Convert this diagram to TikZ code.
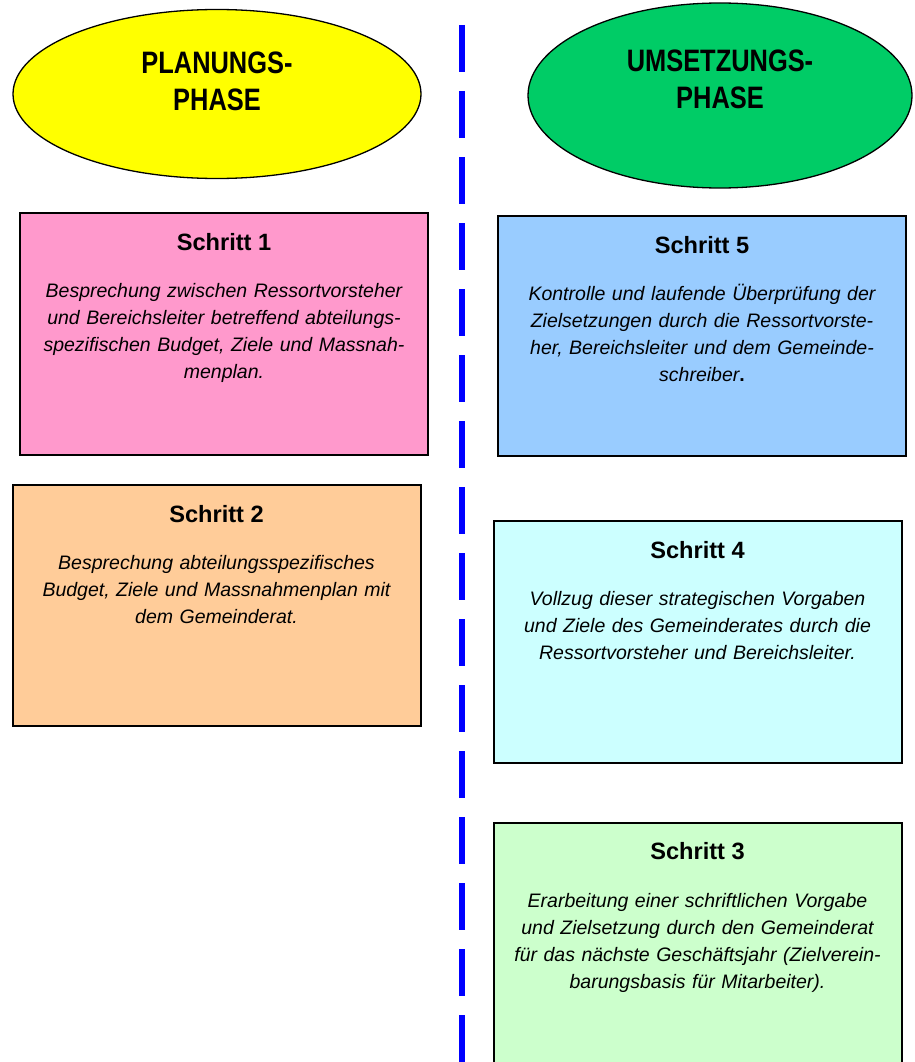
\documentclass[tikz,border=0pt]{standalone}
\usepackage{fontspec}
\setmainfont{Liberation Sans}
\newfontfamily\schmalfont[FakeStretch=0.82]{Liberation Sans}
\usepackage{tikz}
\usetikzlibrary{shapes.geometric}

\definecolor{planung}{HTML}{FFFF00}
\definecolor{umsetzung}{HTML}{00CC66}
\definecolor{schrittA}{HTML}{FF99CC}
\definecolor{schrittB}{HTML}{FFCC99}
\definecolor{schrittC}{HTML}{CCFFCC}
\definecolor{schrittD}{HTML}{CCFFFF}
\definecolor{schrittE}{HTML}{99CCFF}
\definecolor{trenn}{HTML}{0000FF}

\tikzset{
  phase/.style={ellipse,draw,line width=1.3pt,inner sep=0pt},
  phasetext/.style={anchor=base,align=center,text width=300pt,
    font=\schmalfont\bfseries\fontsize{31}{37}\selectfont},
  schrittbox/.style={draw,line width=2pt,inner sep=0pt,minimum width=408pt},
  schritttitel/.style={anchor=base,font=\bfseries\fontsize{23.6}{28}\selectfont},
  schritttext/.style={anchor=base,align=center,text width=400pt,
    font=\itshape\fontsize{19.5}{27}\selectfont}
}

\begin{document}
\begin{tikzpicture}[line cap=butt,line join=miter,x=1pt,y=-1pt]
\clip (0,0) rectangle (914,1062);
\fill[white] (0,0) rectangle (914,1062);
% trennlinie
\draw[trenn,line width=6pt,dash pattern=on 47pt off 19pt] (462,25)-- (462,1075);
% phasen
\node[phase,fill=planung,minimum width=408pt,minimum height=169pt] (plan) at (217,94) {};
\node[phasetext] (plantext) at (217,74) {PLANUNGS-\\PHASE};
\node[phase,fill=umsetzung,minimum width=384pt,minimum height=185pt] (ums) at (720,95.5) {};
\node[phasetext] (umstext) at (720,72) {UMSETZUNGS-\\PHASE};
% planungsphase
\node[schrittbox,fill=schrittA,minimum height=242pt] (s1) at (224,334) {};
\node[schritttitel] (s1titel) at ([yshift=-38pt]s1.north) {Schritt 1};
\node[schritttext] (s1text) at ([yshift=-85pt]s1.north) {Besprechung zwischen Ressortvorsteher\\
und Bereichsleiter betreffend abteilungs-\\spezifischen Budget, Ziele und Massnah-\\menplan.};
\node[schrittbox,fill=schrittB,minimum height=241pt] (s2) at (216.5,605.5) {};
\node[schritttitel] (s2titel) at ([yshift=-38pt]s2.north) {Schritt 2};
\node[schritttext] (s2text) at ([yshift=-85pt]s2.north) {Besprechung abteilungsspezifisches\\
Budget, Ziele und Massnahmenplan mit\\dem Gemeinderat.};
% umsetzungsphase
\node[schrittbox,fill=schrittE,minimum height=240pt] (s5) at (702,336) {};
\node[schritttitel] (s5titel) at ([yshift=-38pt]s5.north) {Schritt 5};
\node[schritttext] (s5text) at ([yshift=-85pt]s5.north) {Kontrolle und laufende Überprüfung der\\
Zielsetzungen durch die Ressortvorste-\\her, Bereichsleiter und dem Gemeinde-\\schreiber{\upshape\bfseries .}};
\node[schrittbox,fill=schrittD,minimum height=242pt] (s4) at (697.5,642) {};
\node[schritttitel] (s4titel) at ([yshift=-38pt]s4.north) {Schritt 4};
\node[schritttext] (s4text) at ([yshift=-85pt]s4.north) {Vollzug dieser strategischen Vorgaben\\
und Ziele des Gemeinderates durch die\\Ressortvorsteher und Bereichsleiter.};
\node[schrittbox,fill=schrittC,minimum height=260pt] (s3) at (697.5,953) {};
\node[schritttitel] (s3titel) at ([yshift=-37pt]s3.north) {Schritt 3};
\node[schritttext] (s3text) at ([yshift=-85pt]s3.north) {Erarbeitung einer schriftlichen Vorgabe\\
und Zielsetzung durch den Gemeinderat\\für das nächste Geschäftsjahr (Zielverein-\\barungsbasis für Mitarbeiter).};
\end{tikzpicture}
\end{document}
